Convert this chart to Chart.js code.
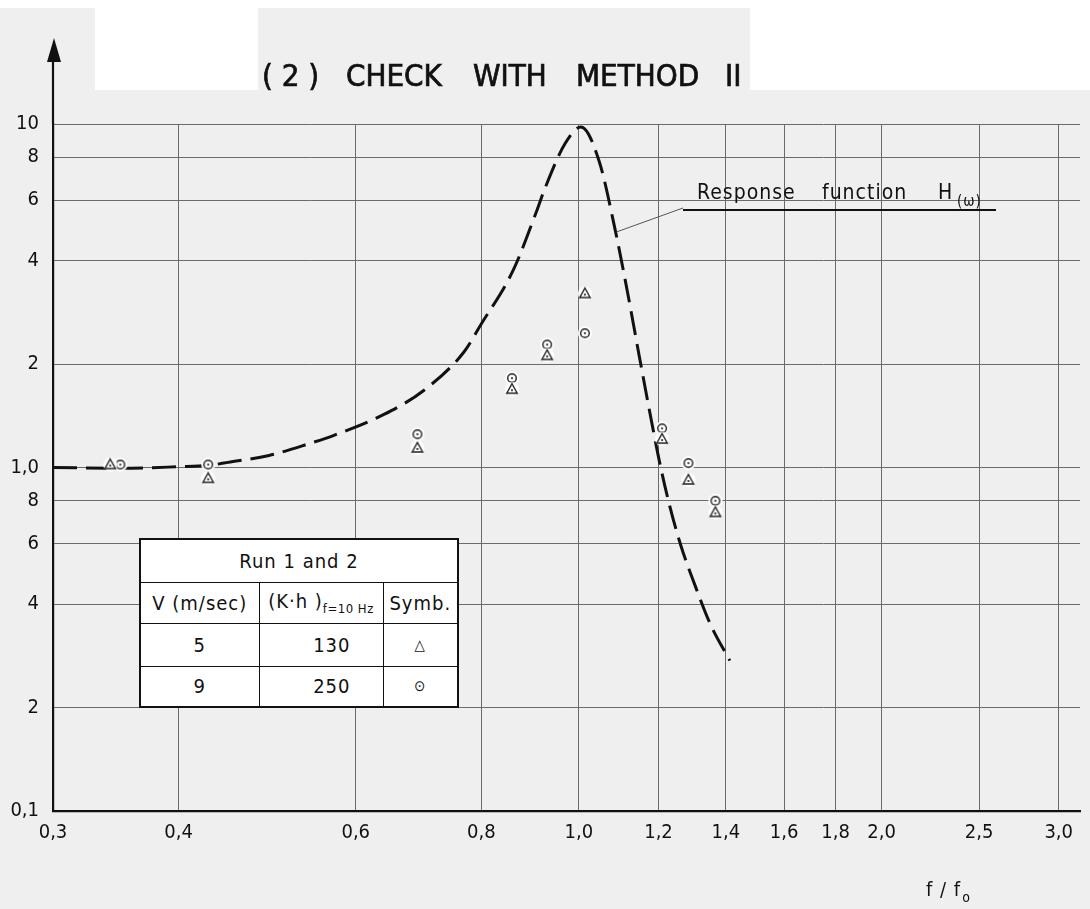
<!DOCTYPE html>
<html>
<head>
<meta charset="utf-8">
<title>(2) Check with method II</title>
<script src="https://cdn.jsdelivr.net/npm/chart.js@4.4.1/dist/chart.umd.min.js"></script>
<style>
  html,body{margin:0;padding:0;background:#efefef;overflow:hidden}
  #wrap{position:relative;width:1090px;height:909px}
  #runs{position:absolute;left:139px;top:538px;width:318px;table-layout:fixed;border-collapse:collapse;background:#fff;
        font-family:"DejaVu Sans Condensed","DejaVu Sans",sans-serif;font-size:20px;letter-spacing:1px;color:#111;border:2.5px solid #111}
  #runs td{border:1.6px solid #111;padding:0;text-align:center;white-space:nowrap;overflow:hidden}
  #runs td.num{text-align:right;padding-right:32px}
  #runs sub{font-size:13px;letter-spacing:0.5px;vertical-align:-5px}
  #runs .sym{font-size:15px}
</style>
</head>
<body>
<div id="wrap">
  <canvas id="resp"></canvas>
  <table id="runs">
    <colgroup><col style="width:119px"><col style="width:124px"><col style="width:75px"></colgroup>
    <tr style="height:43px"><td colspan="3">Run 1 and 2</td></tr>
    <tr style="height:41px"><td>V (m/sec)</td><td>(K·h )<sub>f=10 Hz</sub></td><td>Symb.</td></tr>
    <tr style="height:43px"><td>5</td><td class="num">130</td><td class="sym">△</td></tr>
    <tr style="height:41px"><td>9</td><td class="num">250</td><td class="sym">⊙</td></tr>
  </table>
</div>
<script>
// axes: f/f0 (log) and H (log)
const xTicks = [0.3, 0.4, 0.6, 0.8, 1.0, 1.2, 1.4, 1.6, 1.8, 2.0, 2.5, 3.0];
const xTickLabels = ['0,3','0,4','0,6','0,8','1,0','1,2','1,4','1,6','1,8','2,0','2,5','3,0'];
const yTicks = [0.1, 0.2, 0.4, 0.6, 0.8, 1, 2, 4, 6, 8, 10];
const yTickLabels = ['0,1','2','4','6','8','1,0','2','4','6','8','10'];

// response function H(w) - dashed curve
const curveX = [0.30, 0.35, 0.40, 0.427, 0.448, 0.492, 0.540, 0.570, 0.640, 0.701, 0.768, 0.80, 0.860, 0.906, 0.926, 0.969, 1.005, 1.047, 1.087, 1.117, 1.148, 1.178, 1.205, 1.231, 1.263, 1.305, 1.353, 1.413];
const curveY = [1.00, 0.995, 1.005, 1.013, 1.035, 1.084, 1.175, 1.239, 1.427, 1.676, 2.162, 2.62, 3.74, 5.489, 6.534, 8.774, 9.80, 7.83, 4.90, 3.276, 2.12, 1.417, 1.013, 0.775, 0.593, 0.453, 0.347, 0.274];

// measured points: V=5 m/s (triangle), V=9 m/s (circle)
const run5X = [0.342, 0.428, 0.691, 0.858, 0.930, 1.014, 1.210, 1.285, 1.367];
const run5Y = [1.02, 0.93, 1.14, 1.69, 2.12, 3.21, 1.21, 0.92, 0.74];
const run9X = [0.350, 0.428, 0.691, 0.858, 0.930, 1.014, 1.210, 1.285, 1.367];
const run9Y = [1.02, 1.02, 1.25, 1.82, 2.28, 2.46, 1.30, 1.03, 0.80];

const FONT = '"DejaVu Sans Condensed","DejaVu Sans",sans-serif';
const pts = (xs, ys) => xs.map((x, i) => ({x, y: ys[i]}));

// little marker sprites (with the white halo of the scan)
function sprite(kind) {
  const c = document.createElement('canvas'); c.width = c.height = 18;
  const g = c.getContext('2d');
  g.fillStyle = '#fff'; g.beginPath(); g.arc(9, 9, 7, 0, Math.PI*2); g.fill();
  g.strokeStyle = '#222'; g.fillStyle = '#222'; g.lineWidth = 1.4;
  g.beginPath();
  if (kind === 'tri') { g.moveTo(9, 3.5); g.lineTo(14.2, 13); g.lineTo(3.8, 13); g.closePath(); }
  else g.arc(9, 9, 4.3, 0, Math.PI*2);
  g.stroke();
  g.beginPath(); g.arc(9, kind === 'tri' ? 10 : 9, 1.1, 0, Math.PI*2); g.fill();
  return c;
}

const paper = {
  id: 'paper',
  beforeDraw(c) {
    const g = c.ctx; g.save();
    g.fillStyle = '#efefef'; g.fillRect(0, 0, c.width, c.height);
    g.fillStyle = '#fff';
    g.fillRect(0, 0, 1090, 8); g.fillRect(95, 0, 163, 90); g.fillRect(750, 0, 340, 90);
    g.restore();
  }
};

const notes = {
  id: 'notes',
  afterDraw(c) {
    const g = c.ctx, a = c.chartArea, sx = c.scales.x, sy = c.scales.y;
    g.save();
    // y axis arrow
    g.strokeStyle = '#111'; g.fillStyle = '#111'; g.lineWidth = 2.2;
    g.beginPath(); g.moveTo(a.left, a.top); g.lineTo(a.left, 55); g.stroke();
    g.beginPath(); g.moveTo(a.left + 1, 38); g.lineTo(a.left + 8, 62); g.lineTo(a.left - 6, 62); g.closePath(); g.fill();

    // title
    g.font = '31px ' + FONT; g.textBaseline = 'alphabetic'; g.lineWidth = 0.7;
    [['( 2 )', 262], ['CHECK', 346], ['WITH', 473], ['METHOD', 576], ['II', 725]].forEach(([t, x]) => {
      g.fillText(t, x, 86); g.strokeText(t, x, 86);
    });

    // response function label
    g.font = '21px ' + FONT; g.letterSpacing = '1px';
    g.fillText('Response', 697, 199); g.fillText('function', 822, 199); g.fillText('H', 938, 199);
    g.font = '15px ' + FONT; g.fillText('(ω)', 957, 206);
    g.lineWidth = 2; g.beginPath(); g.moveTo(683, 210); g.lineTo(996, 210); g.stroke();
    g.strokeStyle = '#555'; g.lineWidth = 1;
    g.beginPath(); g.moveTo(683, 208); g.lineTo(sx.getPixelForValue(1.09), sy.getPixelForValue(4.85)); g.stroke();

    // x axis title f / fo
    g.font = '20px ' + FONT; g.letterSpacing = '1px';
    g.fillText('f / f', 926, 896);
    const w = g.measureText('f / f').width;
    g.font = '14px ' + FONT; g.fillText('o', 926 + w + 1, 902);
    g.restore();
  }
};

new Chart(document.getElementById('resp'), {
  type: 'line',
  data: { datasets: [
    { label: 'V = 5 m/sec', type: 'scatter', data: pts(run5X, run5Y), pointStyle: sprite('tri'), pointRadius: 9, order: 0 },
    { label: 'V = 9 m/sec', type: 'scatter', data: pts(run9X, run9Y), pointStyle: sprite('circ'), pointRadius: 9, order: 0 },
    { label: 'Response function H(ω)', data: pts(curveX, curveY), borderColor: '#111', borderWidth: 3,
      borderDash: [24, 9], pointRadius: 0, cubicInterpolationMode: 'monotone', fill: false, order: 1 },
  ]},
  options: {
    responsive: true, maintainAspectRatio: false, animation: false,
    layout: { padding: { top: 124, right: 8, left: 0, bottom: 0 } },
    plugins: { legend: { display: false }, tooltip: { enabled: false } },
    scales: {
      x: { type: 'logarithmic', min: 0.3, max: 3.15, bounds: 'data',
        afterBuildTicks: s => { s.ticks = xTicks.map(v => ({value: v})); },
        afterFit: s => { s.height = 98; },
        grid: { color: '#6b6b6b', lineWidth: 1, drawTicks: false },
        border: { color: '#111', width: 2.2 },
        ticks: { autoSkip: false, maxRotation: 0, padding: 10, color: '#111', font: { size: 20, family: FONT },
          callback: (v, i) => xTickLabels[i] } },
      y: { type: 'logarithmic', min: 0.1, max: 10, bounds: 'data',
        afterBuildTicks: s => { s.ticks = yTicks.map(v => ({value: v})); },
        afterFit: s => { s.width = 53; },
        grid: { color: '#6b6b6b', lineWidth: 1, drawTicks: false },
        border: { color: '#111', width: 2.2 },
        ticks: { autoSkip: false, padding: 14, color: '#111', font: { size: 20, family: FONT },
          callback: (v, i) => yTickLabels[i] } }
    }
  },
  plugins: [paper, notes]
});
</script>
</body>
</html>
